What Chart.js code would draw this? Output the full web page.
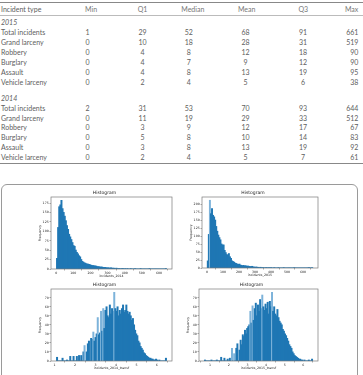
<!DOCTYPE html>
<html>
<head>
<meta charset="utf-8">
<script src="https://cdn.jsdelivr.net/npm/chart.js@4.4.1/dist/chart.umd.min.js"></script>
<style>
  body { margin: 0; width: 363px; height: 375px; overflow: hidden; background: #fff; position: relative; }
  .cell { position: absolute; white-space: nowrap; font-family: Lato, "Noto Sans", sans-serif; font-weight: 400; font-size: 7px; line-height: 9px; color: #606060; }
  .head { color: #777; }
  .year { font-style: italic; }
  .rule { position: absolute; left: 0; width: 363px; height: 0; }
  #figbox { position: absolute; left: 1px; top: 184px; width: 357px; height: 220px; box-sizing: border-box; border: 1px solid #9a9a9a; border-radius: 6px; }
  canvas { position: absolute; }
</style>
</head>
<body>
<div id="figbox"></div>
<script>
// table data
const colHeaders = ['Incident type', 'Min', 'Q1', 'Median', 'Mean', 'Q3', 'Max'];
const incidentTypes = ['Total incidents', 'Grand larceny', 'Robbery', 'Burglary', 'Assault', 'Vehicle larceny'];
const years = ['2015', '2014'];
const stats2015 = [
    [1, 29, 52, 68, 91, 661],
    [0, 10, 18, 28, 31, 519],
    [0, 4, 8, 12, 18, 90],
    [0, 4, 7, 9, 12, 90],
    [0, 4, 8, 13, 19, 95],
    [0, 2, 4, 5, 6, 38]
];
const stats2014 = [
    [2, 31, 53, 70, 93, 644],
    [0, 11, 19, 29, 33, 512],
    [0, 3, 9, 12, 17, 67],
    [0, 5, 8, 10, 14, 83],
    [0, 3, 8, 13, 19, 92],
    [0, 2, 4, 5, 7, 61]
];

// histogram data (100 bins each, counts)
const range2014 = [2, 644];
const counts2014 = [
    28, 110, 165, 170, 182, 160, 150, 140, 128, 115,
    105, 92, 85, 78, 70, 62, 60, 50, 44, 40,
    35, 32, 25, 20, 18, 16, 15, 13, 13, 12,
    11, 10, 9, 9, 8, 8, 7, 6, 6, 5,
    5, 5, 4, 4, 4, 3, 3, 3, 2, 3,
    2, 2, 2, 1, 2, 1, 1, 1, 0, 1,
    1, 0, 1, 0, 1, 0, 0, 1, 0, 0,
    0, 1, 0, 0, 0, 0, 1, 0, 0, 0,
    0, 0, 0, 0, 1, 0, 0, 0, 0, 0,
    0, 0, 0, 0, 0, 0, 0, 0, 0, 1
];
const range2015 = [1, 661];
const counts2015 = [
    22, 105, 212, 170, 186, 165, 160, 150, 130, 115,
    103, 95, 88, 75, 72, 72, 55, 48, 42, 40,
    45, 35, 30, 22, 20, 18, 15, 14, 12, 11,
    12, 9, 8, 7, 8, 6, 7, 5, 6, 5,
    4, 4, 5, 3, 3, 2, 3, 2, 2, 1,
    2, 1, 1, 1, 0, 1, 1, 0, 1, 0,
    1, 0, 0, 1, 0, 0, 0, 1, 0, 0,
    0, 0, 1, 0, 0, 0, 0, 0, 0, 0,
    0, 0, 1, 0, 0, 0, 0, 0, 0, 0,
    0, 0, 0, 0, 0, 0, 1, 0, 0, 1
];
const rangeLog2014 = [1.0986, 6.4693];
const countsLog2014 = [
    4, 0, 0, 0, 0, 3, 0, 0, 0, 1,
    0, 0, 5, 0, 0, 5, 0, 0, 5, 0,
    6, 0, 6, 0, 10, 17, 0, 10, 19, 22,
    0, 25, 24, 32, 22, 26, 30, 48, 29, 31,
    55, 33, 58, 36, 56, 60, 50, 48, 62, 52,
    58, 55, 76, 58, 55, 60, 50, 56, 52, 58,
    62, 54, 56, 62, 55, 52, 54, 50, 45, 47,
    40, 34, 30, 28, 22, 20, 16, 14, 12, 9,
    8, 6, 5, 4, 3, 3, 2, 2, 1, 1,
    2, 1, 0, 1, 0, 0, 0, 0, 0, 3
];
const rangeLog2015 = [0.6931, 6.4953];
const countsLog2015 = [
    1, 0, 0, 0, 0, 0, 1, 0, 0, 0,
    0, 1, 0, 0, 0, 4, 0, 0, 3, 0,
    0, 2, 0, 3, 0, 14, 0, 8, 0, 14,
    19, 0, 12, 23, 18, 29, 27, 34, 30, 36,
    38, 40, 55, 42, 61, 45, 58, 64, 50, 62,
    55, 68, 58, 73, 60, 56, 63, 58, 65, 52,
    66, 60, 76, 55, 60, 52, 50, 57, 48, 44,
    42, 40, 35, 33, 30, 28, 25, 22, 18, 16,
    14, 10, 8, 6, 5, 4, 3, 2, 2, 1,
    1, 0, 1, 0, 0, 0, 1, 0, 0, 2
];

// tick labels
const xTicksRaw = [0, 100, 200, 300, 400, 500, 600];
const xTicksLog = [1, 2, 3, 4, 5, 6];
const yTicks2014 = [0, 25, 50, 75, 100, 125, 150, 175];
const yTicks2015 = [0, 25, 50, 75, 100, 125, 150, 175, 200];
const yTicksLog = [0, 10, 20, 30, 40, 50, 60, 70];

// ---------- table ----------
function addText(text, x, yc, align, cls) {
    const d = document.createElement('div');
    d.className = 'cell ' + (cls || '');
    d.textContent = text;
    d.style.top = (yc - 4.5) + 'px';
    if (align === 'right') d.style.right = (363 - x) + 'px';
    else d.style.left = x + 'px';
    if (align === 'center') d.style.transform = 'translateX(-50%)';
    document.body.appendChild(d);
}
function addRule(y, color) {
    const r = document.createElement('div');
    r.className = 'rule';
    r.style.top = y + 'px';
    r.style.borderTop = '1px solid ' + color;
    document.body.appendChild(r);
}

const headX = [1, 85, 142.6, 192.8, 246.7, 303.3, 358.3];
const headAlign = ['left', 'left', 'center', 'center', 'center', 'center', 'right'];
const valX = [87.5, 142.6, 188.7, 245.5, 303, 358.3];
const valAlign = ['center', 'center', 'center', 'center', 'center', 'right'];

addRule(1.5, '#888');
colHeaders.forEach((h, i) => addText(h, headX[i], 9.3, headAlign[i], i ? 'head' : ''));
addRule(14.6, '#bbb');

function addBlock(year, stats, yYear, yFirst, pitch) {
    addText(year, 1, yYear, 'left', 'year');
    incidentTypes.forEach((t, r) => {
        const y = yFirst + r * pitch;
        addText(t, 1, y, 'left');
        stats[r].forEach((v, c) => addText(String(v), valX[c], y, valAlign[c]));
    });
}
addBlock(years[0], stats2015, 22.7, 32.7, 9.9);
addBlock(years[1], stats2014, 98, 108.3, 9.8);
addRule(163, '#888');

// ---------- histograms ----------
const framePlugin = {
    id: 'frame',
    afterDraw(chart) {
        const { ctx, chartArea: a } = chart;
        ctx.save();
        ctx.strokeStyle = '#7a7a7a';
        ctx.lineWidth = 0.7;
        ctx.strokeRect(a.left, a.top, a.right - a.left, a.bottom - a.top);
        ctx.restore();
    }
};

// isolated tall bars look lighter in the original raster
function barColor(ctx) {
    const d = ctx.dataset.data, i = ctx.dataIndex;
    const v = d[i].y;
    const p = i > 0 ? d[i - 1].y : 0, n = i < d.length - 1 ? d[i + 1].y : 0;
    const m = Math.max(p, n);
    return (v > m * 1.2 && v - m > 6) ? '#7db3da' : '#1f77b4';
}

function drawHist(plot, counts, range, xTicks, yTicks, xLabel) {
    const yAxisW = 14, xAxisH = 11, titleH = 8, padR = 3;
    const canvas = document.createElement('canvas');
    canvas.width = plot.w + yAxisW + padR;
    canvas.height = titleH + plot.h + xAxisH;
    canvas.style.left = (plot.x - yAxisW) + 'px';
    canvas.style.top = (plot.y - titleH) + 'px';
    document.body.appendChild(canvas);

    const lo = range[0], hi = range[1], bw = (hi - lo) / counts.length;
    const pts = counts.map((c, i) => ({ x: lo + (i + 0.5) * bw, y: c }));
    const ymax = Math.max(...counts) * 1.05;
    const tickFont = { family: 'DejaVu Sans', size: 3.2 };

    new Chart(canvas, {
        type: 'bar',
        data: {
            datasets: [{
                data: pts,
                backgroundColor: barColor,
                borderWidth: 0,
                inflateAmount: 0.45,
                barPercentage: 1,
                categoryPercentage: 1
            }]
        },
        options: {
            responsive: false,
            animation: false,
            devicePixelRatio: 1,
            layout: { padding: { top: 0, left: 0, right: padR, bottom: 0 } },
            plugins: {
                legend: { display: false },
                tooltip: { enabled: false },
                title: {
                    display: true,
                    text: 'Histogram',
                    color: '#222',
                    font: { family: 'DejaVu Sans', size: 4.5, weight: 'normal' },
                    padding: { top: 1.6, bottom: 1 }
                }
            },
            scales: {
                x: {
                    type: 'linear',
                    offset: false,
                    min: lo - 0.05 * (hi - lo),
                    max: hi + 0.05 * (hi - lo),
                    afterBuildTicks: s => { s.ticks = xTicks.map(v => ({ value: v })); },
                    afterFit: s => { s.height = xAxisH; },
                    ticks: { font: tickFont, color: '#222', padding: 0.8, maxRotation: 0, autoSkip: false },
                    grid: { drawOnChartArea: false, drawTicks: true, tickLength: 1.5, color: '#555', lineWidth: 0.5 },
                    border: { display: false },
                    title: { display: true, text: xLabel, color: '#222', font: tickFont, padding: { top: 0, bottom: 2 } }
                },
                y: {
                    min: 0,
                    max: ymax,
                    afterBuildTicks: s => { s.ticks = yTicks.map(v => ({ value: v })); },
                    afterFit: s => { s.width = yAxisW; },
                    ticks: { font: tickFont, color: '#222', padding: 0.8, autoSkip: false },
                    grid: { drawOnChartArea: false, drawTicks: true, tickLength: 1.5, color: '#555', lineWidth: 0.5 },
                    border: { display: false },
                    title: { display: true, text: 'Frequency', color: '#222', font: tickFont, padding: { top: 1, bottom: 0 } }
                }
            }
        },
        plugins: [framePlugin]
    });
}

drawHist({ x: 51, y: 197, w: 121, h: 72 }, counts2014, range2014, xTicksRaw, yTicks2014, 'incidents_2014');
drawHist({ x: 202, y: 197, w: 116, h: 71 }, counts2015, range2015, xTicksRaw, yTicks2015, 'incidents_2015');
drawHist({ x: 51, y: 289, w: 121, h: 72 }, countsLog2014, rangeLog2014, xTicksLog, yTicksLog, 'incidents_2014_transf');
drawHist({ x: 199, y: 289, w: 119, h: 72 }, countsLog2015, rangeLog2015, xTicksLog, yTicksLog, 'incidents_2015_transf');
</script>
</body>
</html>
